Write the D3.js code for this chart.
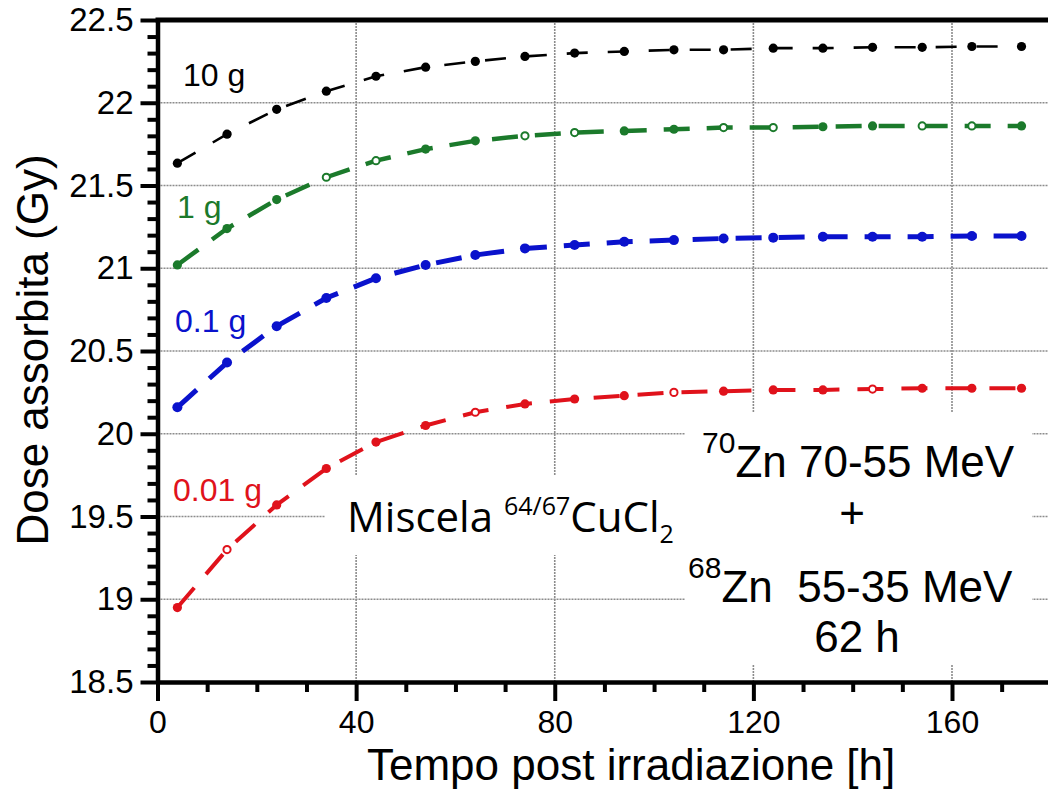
<!DOCTYPE html>
<html lang="it">
<head>
<meta charset="UTF-8">
<title>Dose assorbita</title>
<script src="https://cdn.jsdelivr.net/npm/d3@7"></script>
<style>
  body { margin: 0; background: #fff; }
  svg { display: block; }
  .tick text { font-family: "Liberation Sans", Arial, sans-serif; fill: #000; }
</style>
</head>
<body>
<svg id="chart" width="1048" height="789"></svg>
<script>
  // time after irradiation [h] and absorbed dose [Gy] per mass
  var hours = [4, 14, 24, 34, 44, 54, 64, 74, 84, 94, 104, 114, 124, 134, 144, 154, 164, 174];
  var dose10g = [21.635, 21.81, 21.96, 22.07, 22.16, 22.215, 22.25, 22.28, 22.30, 22.31, 22.32, 22.32, 22.33, 22.33, 22.335, 22.335, 22.34, 22.34];
  var dose1g = [21.02, 21.24, 21.415, 21.55, 21.65, 21.72, 21.77, 21.80, 21.82, 21.83, 21.84, 21.85, 21.85, 21.855, 21.86, 21.86, 21.86, 21.86];
  var dose01g = [20.16, 20.43, 20.65, 20.82, 20.94, 21.02, 21.08, 21.12, 21.14, 21.16, 21.17, 21.18, 21.185, 21.19, 21.19, 21.19, 21.195, 21.195];
  var dose001g = [18.95, 19.30, 19.57, 19.79, 19.95, 20.05, 20.13, 20.18, 20.21, 20.23, 20.25, 20.257, 20.265, 20.265, 20.27, 20.275, 20.275, 20.275];
  var seriesNames = ["10 g", "1 g", "0.1 g", "0.01 g"];
  // points drawn as open circles in the original
  var hollow1g = [34, 44, 74, 84, 114, 124, 154, 164];
  var hollow001g = [14, 64, 104, 144];

  var xTicks = [0, 40, 80, 120, 160];
  var xMinor = [10, 20, 30, 50, 60, 70, 90, 100, 110, 130, 140, 150, 170];
  var yTicks = [18.5, 19, 19.5, 20, 20.5, 21, 21.5, 22, 22.5];
  var yMinor = d3.range(18.6, 22.45, 0.1).filter(function (v) { return Math.abs(v * 2 - Math.round(v * 2)) > 0.01; });

  var svg = d3.select("#chart");
  var fontArial = '"Liberation Sans", Arial, sans-serif';

  var x = d3.scaleLinear().domain([0, 160]).range([157.5, 952]);
  var y = d3.scaleLinear().domain([18.5, 22.5]).range([682, 20]);
  var xRight = 1048;

  // grid
  var grid = svg.append("g")
    .attr("stroke", "#8c8c8c")
    .attr("stroke-width", 1.6)
    .attr("stroke-dasharray", "2 1");
  grid.selectAll(".h").data(yTicks.slice(1, -1)).enter().append("line")
    .attr("x1", x(0)).attr("x2", xRight)
    .attr("y1", function (d) { return y(d); }).attr("y2", function (d) { return y(d); });
  grid.selectAll(".v").data(xTicks.slice(1)).enter().append("line")
    .attr("x1", function (d) { return x(d); }).attr("x2", function (d) { return x(d); })
    .attr("y1", y(22.5)).attr("y2", y(18.5));

  // white boxes behind the annotations
  svg.append("rect").attr("x", 325).attr("y", 475).attr("width", 365).attr("height", 80).attr("fill", "#fff");
  svg.append("rect").attr("x", 685).attr("y", 413).attr("width", 347).attr("height", 252).attr("fill", "#fff");

  // series
  var series = [
    { name: seriesNames[0], values: dose10g, color: "#000000", width: 2.6, dash: "21 20", r: 4.6, hollow: [] },
    { name: seriesNames[1], values: dose1g, color: "#1b7a2b", width: 4.5, dash: "26 17", r: 4.6, hollow: hollow1g },
    { name: seriesNames[2], values: dose01g, color: "#0a12cc", width: 5, dash: "26 17", r: 5, hollow: [] },
    { name: seriesNames[3], values: dose001g, color: "#e0121b", width: 4, dash: "26 18", r: 4.6, hollow: hollow001g }
  ];

  var line = d3.line()
    .x(function (d) { return x(d[0]); })
    .y(function (d) { return y(d[1]); });

  series.forEach(function (s) {
    var pts = hours.map(function (h, i) { return [h, s.values[i]]; });
    svg.append("path")
      .datum(pts)
      .attr("d", line)
      .attr("fill", "none")
      .attr("stroke", s.color)
      .attr("stroke-width", s.width)
      .attr("stroke-dasharray", s.dash);
    svg.append("g").selectAll("circle").data(pts).enter().append("circle")
      .attr("cx", function (d) { return x(d[0]); })
      .attr("cy", function (d) { return y(d[1]); })
      .attr("r", function (d) { return s.hollow.indexOf(d[0]) >= 0 ? s.r - 1 : s.r; })
      .attr("fill", function (d) { return s.hollow.indexOf(d[0]) >= 0 ? "#fff" : s.color; })
      .attr("stroke", s.color)
      .attr("stroke-width", function (d) { return s.hollow.indexOf(d[0]) >= 0 ? 2 : 0; });
  });

  // series labels
  var labelPos = [[183, 86], [177, 218], [175, 332], [173, 501]];
  series.forEach(function (s, i) {
    svg.append("text")
      .attr("x", labelPos[i][0]).attr("y", labelPos[i][1])
      .attr("font-family", fontArial).attr("font-size", 32)
      .attr("fill", s.color)
      .text(s.name);
  });

  // axes
  var yAxis = svg.append("g").attr("transform", "translate(" + x(0) + ",0)")
    .call(d3.axisLeft(y).tickValues(yTicks).tickSize(17).tickSizeOuter(0).tickPadding(7)
      .tickFormat(function (d) { return String(d); }));
  yAxis.selectAll("text").attr("font-size", 33);
  var yAxisMinor = svg.append("g").attr("transform", "translate(" + x(0) + ",0)")
    .call(d3.axisLeft(y).tickValues(yMinor).tickSize(10).tickSizeOuter(0).tickFormat(""));

  var xScaleFull = d3.scaleLinear().domain([0, x.invert(xRight)]).range([x(0), xRight]);
  var xAxis = svg.append("g").attr("transform", "translate(0," + y(18.5) + ")")
    .call(d3.axisBottom(xScaleFull).tickValues(xTicks).tickSize(19).tickSizeOuter(0).tickPadding(9));
  xAxis.selectAll("text").attr("font-size", 32);
  var xAxisMinor = svg.append("g").attr("transform", "translate(0," + y(18.5) + ")")
    .call(d3.axisBottom(xScaleFull).tickValues(xMinor).tickSize(10).tickSizeOuter(0).tickFormat(""));

  svg.selectAll(".domain").attr("stroke", "#000").attr("stroke-width", 4.5);
  svg.selectAll(".tick line").attr("stroke", "#000").attr("stroke-width", 4);
  xAxisMinor.select(".domain").remove();
  yAxisMinor.select(".domain").remove();

  // top frame
  svg.append("line")
    .attr("x1", x(0) - 2).attr("x2", xRight)
    .attr("y1", y(22.5)).attr("y2", y(22.5))
    .attr("stroke", "#000").attr("stroke-width", 5);

  // axis titles
  svg.append("text")
    .attr("transform", "translate(48,350) rotate(-90)")
    .attr("text-anchor", "middle")
    .attr("font-family", fontArial).attr("font-size", 44)
    .text("Dose assorbita (Gy)");
  svg.append("text")
    .attr("x", 367).attr("y", 780)
    .attr("font-family", fontArial).attr("font-size", 44)
    .text("Tempo post irradiazione [h]");

  // annotations
  var misc = svg.append("text")
    .attr("x", 347).attr("y", 532)
    .attr("font-family", '"Open Sans", sans-serif').attr("font-size", 42);
  misc.append("tspan").text("Miscela ");
  misc.append("tspan").attr("font-size", 25).attr("dy", -17).text("64/67");
  misc.append("tspan").attr("dy", 17).text("CuCl");
  misc.append("tspan").attr("font-size", 25).attr("dy", 11).text("2");

  var l1 = svg.append("text").attr("x", 702).attr("y", 477)
    .attr("font-family", fontArial).attr("font-size", 44);
  l1.append("tspan").attr("font-size", 30).attr("dy", -24).text("70");
  l1.append("tspan").attr("dy", 24).text("Zn 70-55 MeV");

  svg.append("text").attr("x", 852).attr("y", 528)
    .attr("text-anchor", "middle")
    .attr("font-family", fontArial).attr("font-size", 44)
    .text("+");

  var l3 = svg.append("text").attr("x", 688).attr("y", 602)
    .attr("font-family", fontArial).attr("font-size", 44);
  l3.append("tspan").attr("font-size", 30).attr("dy", -24).text("68");
  l3.append("tspan").attr("dy", 24).text("Zn\u00a0 55-35 MeV");

  svg.append("text").attr("x", 857).attr("y", 652)
    .attr("text-anchor", "middle")
    .attr("font-family", fontArial).attr("font-size", 44)
    .text("62 h");
</script>
</body>
</html>
